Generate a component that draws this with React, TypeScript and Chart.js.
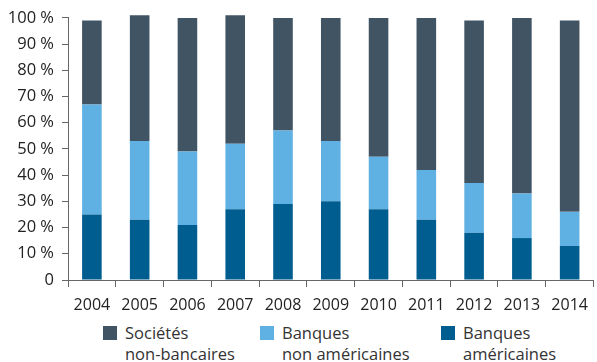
import React, { useEffect, useRef } from "react";
import { Chart, registerables } from "chart.js";

Chart.register(...registerables);

const years = ["2004", "2005", "2006", "2007", "2008", "2009", "2010", "2011", "2012", "2013", "2014"];
const banquesAmericaines = [25, 23, 21, 27, 29, 30, 27, 23, 18, 16, 13];
const banquesNonAmericaines = [42, 30, 28, 25, 28, 23, 20, 19, 19, 17, 13];
const societesNonBancaires = [32, 48, 51, 49, 43, 47, 53, 58, 62, 67, 73];
const yTicks = [0, 10, 20, 30, 40, 50, 60, 70, 80, 90, 100];

const C_DARK = "#415464";
const C_LIGHT = "#60b1e3";
const C_BLUE = "#005d90";
const FONT = "'Open Sans', sans-serif";

export default function App() {
  const ref = useRef<HTMLCanvasElement>(null);
  useEffect(() => {
    if (!ref.current) return;
    const chart = new Chart(ref.current, {
      type: "bar",
      data: {
        labels: years,
        datasets: [
          { label: "Banques américaines", data: banquesAmericaines, backgroundColor: C_BLUE, clip: false as any },
          { label: "Banques non américaines", data: banquesNonAmericaines, backgroundColor: C_LIGHT, clip: false as any },
          { label: "Sociétés non-bancaires", data: societesNonBancaires, backgroundColor: C_DARK, clip: false as any },
        ],
      },
      options: {
        animation: false,
        responsive: false,
        maintainAspectRatio: false,
        layout: { padding: { top: 16, right: 1, left: 2, bottom: 0 } },
        plugins: { legend: { display: false }, tooltip: { enabled: false } },
        datasets: { bar: { barPercentage: 0.41, categoryPercentage: 1 } },
        scales: {
          x: {
            stacked: true,
            offset: true,
            afterFit: (axis: any) => {
              axis.height = 40;
            },
            grid: { display: true, drawOnChartArea: false, offset: true, tickLength: 7, color: "#666" },
            border: { display: true, color: "#666", width: 1 },
            ticks: { color: "#222", font: { family: FONT, size: 16 }, padding: 9, maxRotation: 0, autoSkip: false },
          },
          y: {
            stacked: true,
            min: 0,
            max: 100,
            afterBuildTicks: (axis: any) => {
              axis.ticks = yTicks.map((v) => ({ value: v }));
            },
            afterFit: (axis: any) => {
              axis.width = 66;
            },
            grid: { display: true, drawOnChartArea: false, tickLength: 6, color: "#666" },
            border: { display: true, color: "#666", width: 1 },
            ticks: {
              color: "#222",
              font: { family: FONT, size: 16.5 },
              padding: 8,
              callback: (v: any) => (v === 0 ? "0" : `${v} %`),
            },
          },
        },
      },
    });
    return () => chart.destroy();
  }, []);

  const legendItem = (color: string, l1: string, l2: string, left: number) => (
    <div style={{ position: "absolute", left, top: 322, display: "flex", fontFamily: FONT, fontSize: 16.5, color: "#333", lineHeight: "21px" }}>
      <div style={{ width: 14, height: 14, background: color, marginTop: 4, marginRight: 8 }} />
      <div>
        <div>{l1}</div>
        <div>{l2}</div>
      </div>
    </div>
  );

  return (
    <div style={{ position: "absolute", left: 0, top: 0, width: 597, height: 362, background: "#fff" }}>
      <canvas ref={ref} width={597} height={320} style={{ display: "block" }} />
      {legendItem(C_DARK, "Sociétés", "non-bancaires", 103)}
      {legendItem(C_LIGHT, "Banques", "non américaines", 260)}
      {legendItem(C_BLUE, "Banques", "américaines", 441)}
    </div>
  );
}
